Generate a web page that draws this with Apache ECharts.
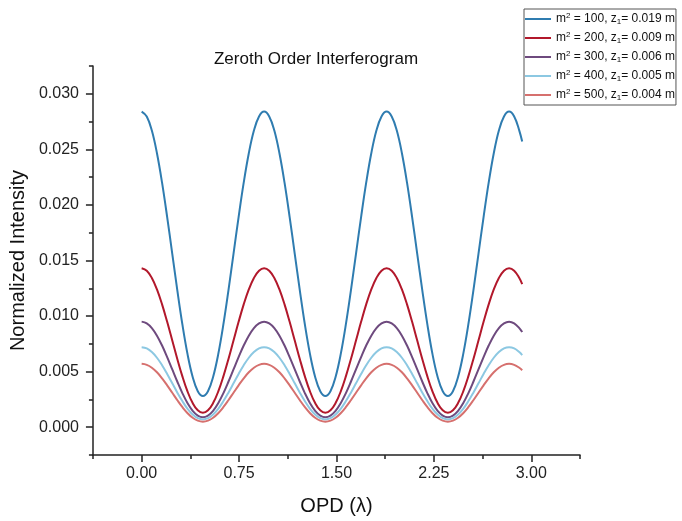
<!DOCTYPE html>
<html>
<head>
<meta charset="utf-8">
<script src="https://cdn.jsdelivr.net/npm/echarts@6/dist/echarts.min.js"></script>
<style>
  html, body { margin: 0; padding: 0; background: #fff; }
  #chart { width: 682px; height: 521px; }
</style>
</head>
<body>
<div id="chart"></div>
<script>
// OPD sample positions (lambda)
const opd = [
  0.0000, 0.0393, 0.0786, 0.1179, 0.1572, 0.1965, 0.2358, 0.2750, 0.3143, 0.3536, 0.3929, 0.4322,
  0.4715, 0.5108, 0.5501, 0.5894, 0.6287, 0.6680, 0.7073, 0.7465, 0.7858, 0.8251, 0.8644, 0.9037,
  0.9430, 0.9823, 1.0216, 1.0609, 1.1002, 1.1395, 1.1788, 1.2181, 1.2573, 1.2966, 1.3359, 1.3752,
  1.4145, 1.4538, 1.4931, 1.5324, 1.5717, 1.6110, 1.6503, 1.6896, 1.7288, 1.7681, 1.8074, 1.8467,
  1.8860, 1.9253, 1.9646, 2.0039, 2.0432, 2.0825, 2.1218, 2.1611, 2.2004, 2.2396, 2.2789, 2.3182,
  2.3575, 2.3968, 2.4361, 2.4754, 2.5147, 2.5540, 2.5933, 2.6326, 2.6719, 2.7111, 2.7504, 2.7897,
  2.8290, 2.8683, 2.9076, 2.9300
]

const m2Vals = ['100', '200', '300', '400', '500']
const z1Vals = ['0.019', '0.009', '0.006', '0.005', '0.004']
const colors = ['#2f7cb0', '#b2182b', '#6e4a7e', '#8cc8e2', '#d6706e']

const int100 = [
  0.02840, 0.02796, 0.02669, 0.02465, 0.02200, 0.01891, 0.01560, 0.01229, 0.00920, 0.00655, 0.00452, 0.00324,
  0.00280, 0.00324, 0.00452, 0.00655, 0.00920, 0.01229, 0.01560, 0.01891, 0.02200, 0.02465, 0.02669, 0.02796,
  0.02840, 0.02796, 0.02669, 0.02465, 0.02200, 0.01891, 0.01560, 0.01229, 0.00920, 0.00655, 0.00452, 0.00324,
  0.00280, 0.00324, 0.00452, 0.00655, 0.00920, 0.01229, 0.01560, 0.01891, 0.02200, 0.02465, 0.02669, 0.02796,
  0.02840, 0.02796, 0.02669, 0.02465, 0.02200, 0.01891, 0.01560, 0.01229, 0.00920, 0.00655, 0.00452, 0.00324,
  0.00280, 0.00324, 0.00452, 0.00655, 0.00920, 0.01229, 0.01560, 0.01891, 0.02200, 0.02465, 0.02669, 0.02796,
  0.02840, 0.02796, 0.02669, 0.02570
]
const int200 = [
  0.01430, 0.01408, 0.01343, 0.01240, 0.01105, 0.00948, 0.00780, 0.00612, 0.00455, 0.00320, 0.00217, 0.00152,
  0.00130, 0.00152, 0.00217, 0.00320, 0.00455, 0.00612, 0.00780, 0.00948, 0.01105, 0.01240, 0.01343, 0.01408,
  0.01430, 0.01408, 0.01343, 0.01240, 0.01105, 0.00948, 0.00780, 0.00612, 0.00455, 0.00320, 0.00217, 0.00152,
  0.00130, 0.00152, 0.00217, 0.00320, 0.00455, 0.00612, 0.00780, 0.00948, 0.01105, 0.01240, 0.01343, 0.01408,
  0.01430, 0.01408, 0.01343, 0.01240, 0.01105, 0.00948, 0.00780, 0.00612, 0.00455, 0.00320, 0.00217, 0.00152,
  0.00130, 0.00152, 0.00217, 0.00320, 0.00455, 0.00612, 0.00780, 0.00948, 0.01105, 0.01240, 0.01343, 0.01408,
  0.01430, 0.01408, 0.01343, 0.01288
]
const int300 = [
  0.00950, 0.00935, 0.00892, 0.00824, 0.00735, 0.00631, 0.00520, 0.00409, 0.00305, 0.00216, 0.00148, 0.00105,
  0.00090, 0.00105, 0.00148, 0.00216, 0.00305, 0.00409, 0.00520, 0.00631, 0.00735, 0.00824, 0.00892, 0.00935,
  0.00950, 0.00935, 0.00892, 0.00824, 0.00735, 0.00631, 0.00520, 0.00409, 0.00305, 0.00216, 0.00148, 0.00105,
  0.00090, 0.00105, 0.00148, 0.00216, 0.00305, 0.00409, 0.00520, 0.00631, 0.00735, 0.00824, 0.00892, 0.00935,
  0.00950, 0.00935, 0.00892, 0.00824, 0.00735, 0.00631, 0.00520, 0.00409, 0.00305, 0.00216, 0.00148, 0.00105,
  0.00090, 0.00105, 0.00148, 0.00216, 0.00305, 0.00409, 0.00520, 0.00631, 0.00735, 0.00824, 0.00892, 0.00935,
  0.00950, 0.00935, 0.00892, 0.00856
]
const int400 = [
  0.00720, 0.00709, 0.00676, 0.00625, 0.00558, 0.00479, 0.00395, 0.00311, 0.00233, 0.00165, 0.00114, 0.00081,
  0.00070, 0.00081, 0.00114, 0.00165, 0.00233, 0.00311, 0.00395, 0.00479, 0.00558, 0.00625, 0.00676, 0.00709,
  0.00720, 0.00709, 0.00676, 0.00625, 0.00558, 0.00479, 0.00395, 0.00311, 0.00233, 0.00165, 0.00114, 0.00081,
  0.00070, 0.00081, 0.00114, 0.00165, 0.00233, 0.00311, 0.00395, 0.00479, 0.00558, 0.00625, 0.00676, 0.00709,
  0.00720, 0.00709, 0.00676, 0.00625, 0.00558, 0.00479, 0.00395, 0.00311, 0.00233, 0.00165, 0.00114, 0.00081,
  0.00070, 0.00081, 0.00114, 0.00165, 0.00233, 0.00311, 0.00395, 0.00479, 0.00558, 0.00625, 0.00676, 0.00709,
  0.00720, 0.00709, 0.00676, 0.00649
]
const int500 = [
  0.00570, 0.00561, 0.00535, 0.00494, 0.00440, 0.00377, 0.00310, 0.00243, 0.00180, 0.00126, 0.00085, 0.00059,
  0.00050, 0.00059, 0.00085, 0.00126, 0.00180, 0.00243, 0.00310, 0.00377, 0.00440, 0.00494, 0.00535, 0.00561,
  0.00570, 0.00561, 0.00535, 0.00494, 0.00440, 0.00377, 0.00310, 0.00243, 0.00180, 0.00126, 0.00085, 0.00059,
  0.00050, 0.00059, 0.00085, 0.00126, 0.00180, 0.00243, 0.00310, 0.00377, 0.00440, 0.00494, 0.00535, 0.00561,
  0.00570, 0.00561, 0.00535, 0.00494, 0.00440, 0.00377, 0.00310, 0.00243, 0.00180, 0.00126, 0.00085, 0.00059,
  0.00050, 0.00059, 0.00085, 0.00126, 0.00180, 0.00243, 0.00310, 0.00377, 0.00440, 0.00494, 0.00535, 0.00561,
  0.00570, 0.00561, 0.00535, 0.00513
]
const intensities = [int100, int200, int300, int400, int500]

const xMajor = [0, 0.75, 1.5, 2.25, 3]
const yMajor = [0, 0.005, 0.01, 0.015, 0.02, 0.025, 0.03]

const font = 'Liberation Sans, Arial, sans-serif'
const axisColor = '#222'

const names = m2Vals.map((m, i) => 'm² = ' + m + ', z₁= ' + z1Vals[i] + ' m')

const chart = echarts.init(document.getElementById('chart'))

// minor ticks live on one axis, major ticks + labels on a twin axis at the same spot
const baseX = {
  type: 'value',
  position: 'bottom',
  min: -0.375,
  max: 3.375,
  interval: 0.375,
  splitLine: { show: false }
}
const baseY = {
  type: 'value',
  position: 'left',
  min: -0.0025,
  max: 0.0325,
  interval: 0.0025,
  splitLine: { show: false }
}

const option = {
  animation: false,
  textStyle: { fontFamily: font },
  title: {
    text: 'Zeroth Order Interferogram',
    left: 311,
    top: 46,
    textAlign: 'center',
    textStyle: { fontFamily: font, fontSize: 17, fontWeight: 'normal', color: '#111' }
  },
  legend: {
    orient: 'vertical',
    left: 524,
    top: 9,
    padding: [3, 1, 3, 1],
    itemGap: 5,
    itemWidth: 26,
    itemHeight: 2,
    icon: 'rect',
    backgroundColor: '#fff',
    borderColor: '#555',
    borderWidth: 1,
    borderRadius: 0,
    data: names,
    formatter: (name) => {
      const i = names.indexOf(name)
      return '{a|m}{sup|2}{a| = ' + m2Vals[i] + ', z}{sub|1}{a|= ' + z1Vals[i] + ' m}'
    },
    textStyle: {
      fontFamily: font,
      color: '#111',
      rich: {
        a: { fontSize: 12, lineHeight: 14, fontFamily: font, color: '#111' },
        sup: { fontSize: 8, lineHeight: 8, verticalAlign: 'top', fontFamily: font, color: '#111' },
        sub: { fontSize: 8, lineHeight: 8, verticalAlign: 'bottom', fontFamily: font, color: '#111' }
      }
    }
  },
  grid: { left: 92, right: 102, top: 66, bottom: 62 },
  xAxis: [
    Object.assign({}, baseX, {
      axisLine: { onZero: false, lineStyle: { color: axisColor, width: 1.5 } },
      axisTick: { length: 4, lineStyle: { color: axisColor, width: 1.5 } },
      axisLabel: { show: false }
    }),
    Object.assign({}, baseX, {
      axisLine: { show: false, onZero: false },
      axisTick: { customValues: xMajor, length: 7, lineStyle: { color: axisColor, width: 1.5 } },
      axisLabel: {
        customValues: xMajor,
        margin: 11,
        fontSize: 16,
        color: '#222',
        fontFamily: font,
        formatter: (v) => v.toFixed(2)
      },
      name: 'OPD (λ)',
      nameLocation: 'middle',
      nameGap: 41,
      nameTextStyle: { fontSize: 20, color: '#111', fontFamily: font }
    })
  ],
  yAxis: [
    Object.assign({}, baseY, {
      axisLine: { show: true, onZero: false, lineStyle: { color: axisColor, width: 1.5 } },
      axisTick: { length: 4, lineStyle: { color: axisColor, width: 1.5 } },
      axisLabel: { show: false }
    }),
    Object.assign({}, baseY, {
      axisLine: { show: false, onZero: false },
      axisTick: { customValues: yMajor, length: 7, lineStyle: { color: axisColor, width: 1.5 } },
      axisLabel: {
        customValues: yMajor,
        margin: 14,
        fontSize: 16,
        color: '#222',
        fontFamily: font,
        formatter: (v) => v.toFixed(3)
      },
      name: 'Normalized Intensity',
      nameLocation: 'middle',
      nameGap: 52,
      nameTextStyle: { fontSize: 20, color: '#111', fontFamily: font }
    })
  ],
  series: intensities.map((vals, i) => ({
    name: names[i],
    type: 'line',
    xAxisIndex: 0,
    yAxisIndex: 0,
    smooth: 0.4,
    showSymbol: false,
    color: colors[i],
    lineStyle: { width: 2, color: colors[i] },
    data: vals.map((v, k) => [opd[k], v])
  }))
}

chart.setOption(option)
</script>
</body>
</html>
